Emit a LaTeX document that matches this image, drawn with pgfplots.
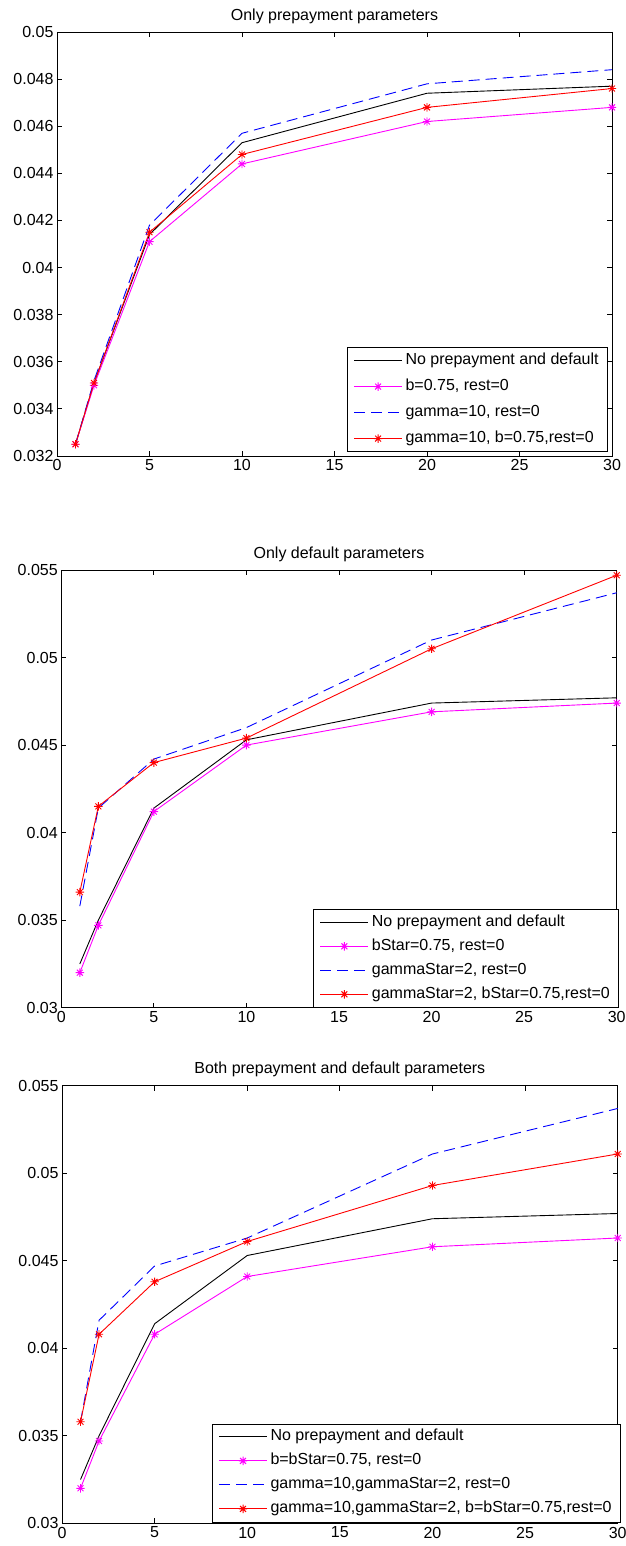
\documentclass[border=0pt]{standalone}
\usepackage{fontspec}
\setmainfont{Liberation Sans}
\usepackage{pgfplots}
\pgfplotsset{compat=1.18}

% MATLAB-style asterisk: plus and cross overlaid
\pgfdeclareplotmark{mstar}{%
  \pgfpathmoveto{\pgfqpoint{-\pgfplotmarksize}{0pt}}%
  \pgfpathlineto{\pgfqpoint{\pgfplotmarksize}{0pt}}%
  \pgfpathmoveto{\pgfqpoint{0pt}{-\pgfplotmarksize}}%
  \pgfpathlineto{\pgfqpoint{0pt}{\pgfplotmarksize}}%
  \pgfpathmoveto{\pgfqpoint{-0.7\pgfplotmarksize}{-0.7\pgfplotmarksize}}%
  \pgfpathlineto{\pgfqpoint{0.7\pgfplotmarksize}{0.7\pgfplotmarksize}}%
  \pgfpathmoveto{\pgfqpoint{-0.7\pgfplotmarksize}{0.7\pgfplotmarksize}}%
  \pgfpathlineto{\pgfqpoint{0.7\pgfplotmarksize}{-0.7\pgfplotmarksize}}%
  \pgfusepathqstroke}

\definecolor{mblue}{rgb}{0,0,1}
\definecolor{mred}{rgb}{1,0,0}
\definecolor{mmag}{rgb}{1,0,1}

\pgfplotsset{
  panel/.style={
    scale only axis,
    xmin=0, xmax=30, xtick={0,5,10,15,20,25,30},
    tick align=inside, tick pos=both,
    major tick length=5pt,
    every tick/.style={black, line width=0.8pt},
    axis line style={line width=0.9pt},
    tick label style={font=\fontsize{16}{18}\selectfont},
    /pgf/number format/assume math mode=true,
    scaled y ticks=false,
    yticklabel style={/pgf/number format/fixed, /pgf/number format/precision=3},
    every axis title shift=5pt,
    title style={font=\fontsize{16}{18}\selectfont},
    legend cell align=left,
    % legend samples: 48pt line with the mark in its middle
    legend image code/.code={%
      \draw[mark repeat=2,mark phase=2,##1,line width=1pt] plot coordinates {(0pt,0pt)(24pt,0pt)(48pt,0pt)};},
    legend style={font=\fontsize{16}{18}\selectfont, draw=black, line width=0.8pt,
      fill=white, inner xsep=6pt, inner ysep=2pt,
      nodes={inner sep=3pt, text height=12pt, text depth=4pt}},
    clip=false,
  },
  noneS/.style={black, line width=0.9pt},
  bS/.style={mmag, line width=0.9pt, mark=mstar, mark size=4.2pt, mark options={solid}},
  gS/.style={color=mblue, draw=mblue, line width=0.9pt, dash pattern=on 11pt off 6pt},
  gbS/.style={mred, line width=0.9pt, mark=mstar, mark size=4.2pt, mark options={solid}},
}

\begin{document}
\begin{tikzpicture}
\useasboundingbox (0,0) rectangle (625pt,-1546pt);

% Only prepayment parameters
\begin{axis}[panel, at={(57pt,-32pt)}, anchor=north west,
  width=555pt, height=424pt,
  ymin=0.032, ymax=0.05,
  ytick={0.032,0.034,0.036,0.038,0.04,0.042,0.044,0.046,0.048,0.05},
  title={Only prepayment parameters},
  legend style={at={(1,0)}, anchor=south east, xshift=-4pt, yshift=4pt, row sep=4pt}]
\addplot[noneS] coordinates {(1,0.0325)(2,0.0351)(5,0.0414)(10,0.0453)(20,0.0474)(30,0.0477)};
\addplot[bS] coordinates {(1,0.0325)(2,0.0350)(5,0.0411)(10,0.0444)(20,0.0462)(30,0.0468)};
\addplot[gS] coordinates {(1,0.0325)(2,0.0352)(5,0.0418)(10,0.0457)(20,0.0478)(30,0.0484)};
\addplot[gbS] coordinates {(1,0.0325)(2,0.0351)(5,0.0415)(10,0.0448)(20,0.0468)(30,0.0476)};
\legend{No prepayment and default, {b=0.75, rest=0}, {gamma=10, rest=0}, {gamma=10, b=0.75,rest=0}}
\end{axis}

% Only default parameters
\begin{axis}[panel, at={(61.3pt,-570pt)}, anchor=north west,
  width=555.4pt, height=437.7pt,
  ymin=0.03, ymax=0.055,
  ytick={0.03,0.035,0.04,0.045,0.05,0.055},
  title={Only default parameters},
  legend style={at={(1,0)}, anchor=south east, xshift=2.5pt, yshift=0pt, row sep=2pt}]
\addplot[noneS] coordinates {(1,0.0325)(2,0.0350)(5,0.0414)(10,0.0453)(20,0.0474)(30,0.0477)};
\addplot[bS] coordinates {(1,0.0320)(2,0.0347)(5,0.0412)(10,0.0450)(20,0.0469)(30,0.0474)};
\addplot[gS] coordinates {(1,0.0358)(2,0.0414)(5,0.0442)(10,0.0460)(20,0.0510)(30,0.0537)};
\addplot[gbS] coordinates {(1,0.0366)(2,0.0415)(5,0.0440)(10,0.0454)(20,0.0505)(30,0.0547)};
\legend{No prepayment and default, {bStar=0.75, rest=0}, {gammaStar=2, rest=0}, {gammaStar=2, bStar=0.75,rest=0}}
\end{axis}

% Both prepayment and default parameters
\begin{axis}[panel, at={(62pt,-1085.7pt)}, anchor=north west,
  width=555.7pt, height=437.6pt,
  ymin=0.03, ymax=0.055,
  ytick={0.03,0.035,0.04,0.045,0.05,0.055},
  title={Both prepayment and default parameters},
  legend style={at={(1,0)}, anchor=south east, xshift=3.3pt, yshift=1pt, row sep=2pt}]
\addplot[noneS] coordinates {(1,0.0325)(2,0.0350)(5,0.0414)(10,0.0453)(20,0.0474)(30,0.0477)};
\addplot[bS] coordinates {(1,0.0320)(2,0.0347)(5,0.0408)(10,0.0441)(20,0.0458)(30,0.0463)};
\addplot[gS] coordinates {(1,0.0358)(2,0.0416)(5,0.0447)(10,0.0463)(20,0.0511)(30,0.0537)};
\addplot[gbS] coordinates {(1,0.0358)(2,0.0408)(5,0.0438)(10,0.0461)(20,0.0493)(30,0.0511)};
\legend{No prepayment and default, {b=bStar=0.75, rest=0}, {gamma=10,gammaStar=2, rest=0}, {gamma=10,gammaStar=2, b=bStar=0.75,rest=0}}
\end{axis}
\end{tikzpicture}
\end{document}
